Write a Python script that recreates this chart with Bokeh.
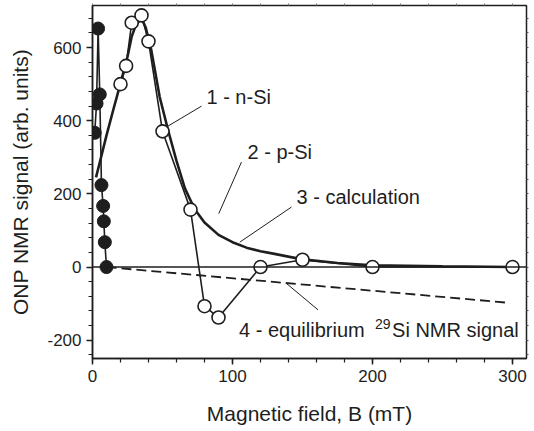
from bokeh.plotting import figure
from bokeh.models import Range1d, LinearAxis, SingleIntervalTicker, Label, Span
from bokeh.embed import file_html
from bokeh.resources import INLINE

# ---- data ----
p_si_x = [1.6, 2.9, 4.0, 5.2, 6.4, 7.6, 8.1, 8.8, 10]
p_si_y = [367, 447, 652, 472, 224, 167, 125, 68, 0]

n_si_x = [20, 24, 28, 35, 40, 50, 70, 80, 90, 120, 150, 200, 300]
n_si_y = [500, 550, 668, 688, 617, 371, 157, -107, -138, 0, 20, 0, 0]

calc_x = [2.5, 5, 10, 15, 20, 25, 28, 31, 34, 36, 38, 42, 48, 54, 60, 66, 73,
          80, 90, 100, 110, 120, 130, 150, 175, 200, 250, 300]
calc_y = [245, 283, 360, 432, 502, 575, 630, 662, 675, 672, 655, 593, 465, 374,
          290, 215, 158, 122, 88, 68, 53, 43, 36, 21, 11, 5, 2, 0]

eq_x = [10, 295]
eq_y = [0, -97]

x_label = "Magnetic field, B (mT)"
y_label = "ONP NMR signal (arb. units)"
y_tick_labels = {600: "600", 400: "400", 200: "200", 0: "0", -200: "-200"}

FONT = "Liberation Sans"
INK = "#1e1e1e"

p = figure(width=534, height=431, x_range=Range1d(0, 310), y_range=Range1d(-250, 715),
           output_backend="svg", toolbar_location=None,
           min_border_left=92, min_border_right=8, min_border_top=5, min_border_bottom=73)
p.xgrid.visible = False
p.ygrid.visible = False
p.outline_line_color = INK
p.outline_line_width = 1.5
p.background_fill_color = "white"
p.border_fill_color = "white"

# bottom axis
xa = p.xaxis[0]
xa.ticker = SingleIntervalTicker(interval=100, num_minor_ticks=5)
xa.axis_label = x_label
for ax in (xa, p.yaxis[0]):
    ax.major_tick_in = 0
    ax.major_tick_out = 6
    ax.minor_tick_in = 0
    ax.minor_tick_out = 4
    ax.axis_line_color = INK
    ax.axis_line_width = 1.5
    ax.major_tick_line_color = INK
    ax.major_tick_line_width = 1.5
    ax.minor_tick_line_color = INK
    ax.minor_tick_line_width = 1.2
    ax.major_label_text_font = FONT
    ax.major_label_text_font_size = "17px"
    ax.major_label_text_color = INK
    ax.axis_label_text_font = FONT
    ax.axis_label_text_font_size = "21px"
    ax.axis_label_text_font_style = "normal"
    ax.axis_label_text_color = INK
    ax.major_label_standoff = 5

xa.axis_label_standoff = 17
ya = p.yaxis[0]
ya.ticker = SingleIntervalTicker(interval=200, num_minor_ticks=5)
ya.major_label_overrides = y_tick_labels
ya.axis_label = y_label
ya.axis_label_standoff = 12

# mirror ticks on top and right (labels not drawn)
top = LinearAxis(ticker=SingleIntervalTicker(interval=20, num_minor_ticks=0),
                 major_tick_out=2, major_tick_in=0, minor_tick_out=0, minor_tick_in=0,
                 major_label_text_font_size="1px", major_label_text_color=None,
                 major_label_standoff=0,
                 axis_line_color=None, major_tick_line_color="#777")
right = LinearAxis(ticker=SingleIntervalTicker(interval=40, num_minor_ticks=0),
                   major_tick_out=2, major_tick_in=0, minor_tick_out=0, minor_tick_in=0,
                   major_label_text_font_size="1px", major_label_text_color=None,
                   major_label_standoff=0,
                   axis_line_color=None, major_tick_line_color="#555")
p.add_layout(top, "above")
p.add_layout(right, "right")

# zero line
p.add_layout(Span(location=0, dimension="width", line_color=INK, line_width=1.6))

# equilibrium line (dashed)
p.line(eq_x, eq_y, line_color=INK, line_width=1.8, line_dash="10 5")

# n-Si data
p.line(n_si_x, n_si_y, line_color=INK, line_width=1.6)
# calculation
p.line(calc_x, calc_y, line_color=INK, line_width=2.6)
p.scatter(n_si_x, n_si_y, size=13, marker="circle", fill_color="white",
          line_color=INK, line_width=1.6)

# p-Si data
p.line(p_si_x, p_si_y, line_color=INK, line_width=1.6)
p.scatter(p_si_x, p_si_y, size=13, marker="circle", fill_color=INK, line_color=INK)

# leader lines
lead_x0 = [77.9, 106.4, 142.1, 161.1]
lead_y0 = [440, 287, 164, -117]
lead_x1 = [52.9, 90.2, 105.2, 138.6]
lead_y1 = [383, 146, 68, -45]
p.segment(lead_x0, lead_y0, lead_x1, lead_y1, line_color=INK, line_width=1)

def lab(x, y, text, size="20px", xo=0, yo=0):
    p.add_layout(Label(x=x, y=y, text=text, x_offset=xo, y_offset=yo,
                       text_font=FONT, text_font_size=size, text_color=INK,
                       text_baseline="alphabetic", text_align="left"))

lab(81.4, 465, "1 - n-Si")
lab(110.7, 315, "2 - p-Si")
lab(145.7, 191, "3 - calculation")
lab(104.7, -173, "4 - equilibrium")
lab(104.7, -173, "29", size="14px", xo=136, yo=6)
lab(104.7, -173, "Si NMR signal", xo=153)

open("out.html", "w").write(file_html(p, INLINE))
